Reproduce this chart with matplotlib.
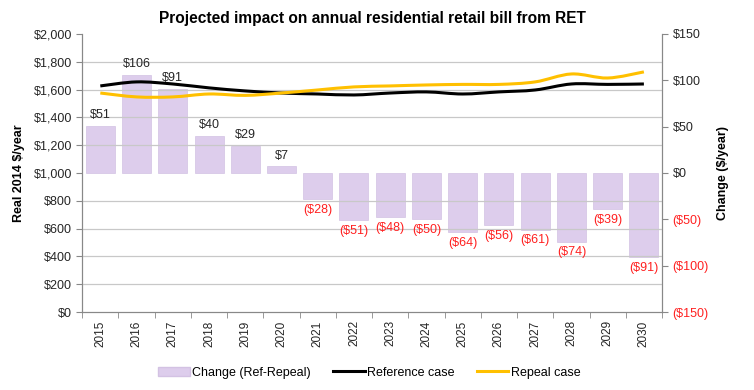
import numpy as np
import matplotlib.pyplot as plt
from matplotlib.patches import Patch, PathPatch
from matplotlib.lines import Line2D
from matplotlib.path import Path
from matplotlib.ticker import FuncFormatter

plt.rcParams['font.family'] = ['Liberation Sans', 'DejaVu Sans']

years = [str(y) for y in range(2015, 2031)]
change = [51, 106, 91, 40, 29, 7, -28, -51, -48, -50, -64, -56, -61, -74, -39, -91]
reference = [1626, 1655, 1640, 1612, 1590, 1575, 1568, 1561, 1575, 1583, 1568, 1583, 1597, 1640, 1637, 1640]
repeal = [1575, 1547, 1547, 1568, 1558, 1575, 1597, 1619, 1626, 1633, 1637, 1637, 1655, 1712, 1683, 1727]

x = np.arange(len(years))


def smooth_path(xs, ys):
    # Excel-style smoothed line: Catmull-Rom through the points as cubic beziers
    pts = np.column_stack([xs, ys]).astype(float)
    verts = [pts[0]]
    codes = [Path.MOVETO]
    for i in range(len(pts) - 1):
        p0 = pts[i - 1] if i > 0 else pts[i]
        p1, p2 = pts[i], pts[i + 1]
        p3 = pts[i + 2] if i + 2 < len(pts) else pts[i + 1]
        verts += [p1 + (p2 - p0) / 6, p2 - (p3 - p1) / 6, p2]
        codes += [Path.CURVE4] * 3
    return Path(verts, codes)


fig = plt.figure(figsize=(7.54, 3.9), dpi=100)
ax = fig.add_axes([0.109, 0.2, 0.769, 0.713])  # bars, right scale
ax2 = ax.twinx()                                # lines, left scale

ax.bar(x, change, width=0.8, color='#DDCDEC', edgecolor='#D3C2E3', linewidth=0.5, zorder=2)
for xi, v in zip(x, change):
    if v >= 0:
        ax.text(xi, v + 5, '${}'.format(v), ha='center', va='bottom', fontsize=9, color='#262626')
    else:
        ax.text(xi, v - 5, '(${})'.format(-v), ha='center', va='top', fontsize=9, color='#FF2020')

ax.set_ylim(-150, 150)
ax.set_xlim(-0.5, len(years) - 0.5)
ax.yaxis.tick_right()
ax.yaxis.set_label_position('right')
ax.set_yticks(np.arange(-150, 151, 50))
ax.yaxis.set_major_formatter(FuncFormatter(lambda v, p: '$0' if v == 0 else ('${:.0f}'.format(v) if v > 0 else '(${:.0f})'.format(-v))))
for t, v in zip(ax.get_yticklabels(), np.arange(-150, 151, 50)):
    t.set_color('#FF2020' if v < 0 else '#262626')
ax.set_yticks(np.arange(-150, 151, 30), minor=True)
ax.set_axisbelow(False)
ax.grid(True, which='minor', axis='y', color='#C8C8C8', linewidth=0.9)
ax.tick_params(axis='y', which='minor', length=0)
ax.tick_params(axis='y', which='major', labelsize=9, color='#888888', length=4)
ax.set_ylabel('Change ($/year)', fontsize=9, fontweight='bold', rotation=90, labelpad=6)

ax.set_xticks(x)
ax.set_xticklabels(years, rotation=90, fontsize=8.5, color='#262626')
ax.set_xticks(np.arange(len(years) + 1) - 0.5, minor=True)
ax.tick_params(axis='x', which='major', length=0, pad=6)
ax.tick_params(axis='x', which='minor', length=4, color='#888888')

ax2.add_patch(PathPatch(smooth_path(x, reference), facecolor='none', edgecolor='black', linewidth=2.2))
ax2.add_patch(PathPatch(smooth_path(x, repeal), facecolor='none', edgecolor='#FFC000', linewidth=2.2))
ax2.set_ylim(0, 2000)
ax2.yaxis.tick_left()
ax2.yaxis.set_label_position('left')
ax2.set_yticks(np.arange(0, 2001, 200))
ax2.yaxis.set_major_formatter(FuncFormatter(lambda v, p: '${:,.0f}'.format(v)))
ax2.tick_params(axis='y', labelsize=9, color='#888888', length=4, labelcolor='#262626')
ax2.set_ylabel('Real 2014 $/year', fontsize=9, fontweight='bold', labelpad=6)

for a in (ax, ax2):
    a.spines['top'].set_visible(False)
    for s in ('left', 'right', 'bottom'):
        a.spines[s].set_color('#888888')

ax.set_title('Projected impact on annual residential retail bill from RET', fontsize=11.2, fontweight='bold', pad=8)

handles = [Patch(facecolor='#DDCDEC', edgecolor='#D3C2E3', label='Change (Ref-Repeal)'),
           Line2D([], [], color='black', linewidth=2.2, label='Reference case'),
           Line2D([], [], color='#FFC000', linewidth=2.2, label='Repeal case')]
fig.legend(handles=handles, loc='lower center', bbox_to_anchor=(0.49, 0.0), ncol=3, frameon=False,
           fontsize=9, columnspacing=1.8, handlelength=2.5, handletextpad=0.2)

plt.savefig('out.png', dpi=100)
